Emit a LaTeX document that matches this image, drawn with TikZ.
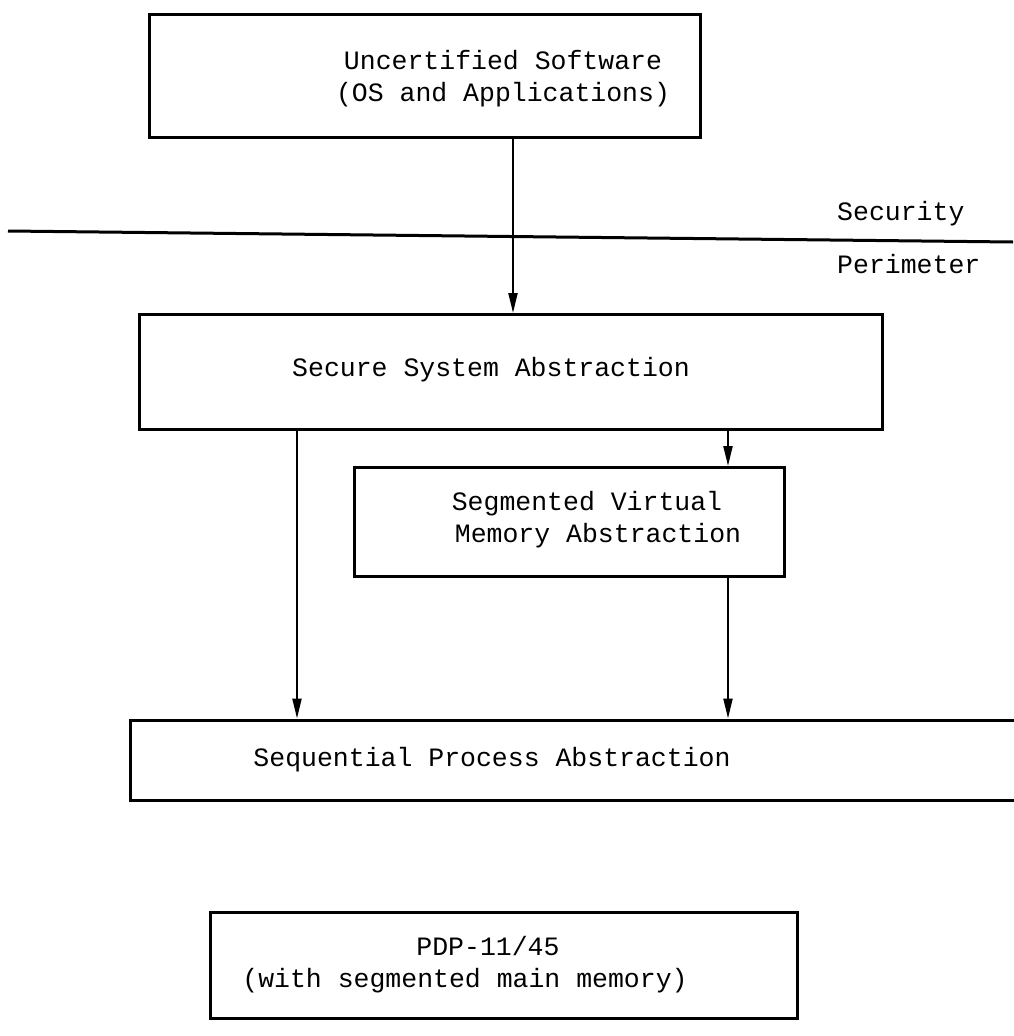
\documentclass[tikz,border=0pt]{standalone}
\usepackage{fontspec}
\setmonofont{Liberation Mono}
\usetikzlibrary{arrows.meta}

\begin{document}
\begin{tikzpicture}[x=1pt, y=-1pt,
		layerbox/.style={draw, line width=3pt, inner sep=0pt},
		caption/.style={align=center, inner sep=0pt,
			font=\ttfamily\fontsize{26.5}{32}\selectfont},
		flow/.style={line width=2.2pt, -{Triangle[length=20pt, width=9pt]}}
	]
	\useasboundingbox (0,0) rectangle (1013,1036);

	% Layers
	\node[layerbox, minimum width=551pt, minimum height=123pt] (unc) at (424.5,75.5) {};
	\node[layerbox, minimum width=743pt, minimum height=115pt] (sec) at (511,372) {};
	\node[layerbox, minimum width=430pt, minimum height=109pt] (svm) at (569,522) {};
	\node[layerbox, minimum width=890pt, minimum height=80pt] (seq) at (575,760) {};
	\node[layerbox, minimum width=587pt, minimum height=106pt] (pdp) at (503.5,965) {};

	% Typed labels
	\node[caption] (uncText) at (503,79) {Uncertified Software\\(OS and Applications)};
	\node[caption] (secText) at (491,370) {Secure System Abstraction};
	\node[caption] (svmText) at (598,520) {\hspace*{-22pt}Segmented Virtual\\Memory Abstraction};
	\node[caption] (seqText) at (492,760) {Sequential Process Abstraction};
	\node[caption] (pdpText) at (465,965) {\hspace*{46pt}PDP-11/45\\(with segmented main memory)};

	% Security perimeter
	\coordinate (perimL) at (8,231);
	\coordinate (perimR) at (1013,242);
	\draw[line width=3pt] (perimL) -- (perimR);
	\node[caption, anchor=west] (secur) at (837,214) {Security};
	\node[caption, anchor=west] (perim) at (837,264) {Perimeter};

	% Uses
	\draw[flow] (unc.south -| 513,0) -- (sec.north -| 513,0);
	\draw[flow] (sec.south -| 297,0) -- (seq.north -| 297,0);
	\draw[flow] (sec.south -| 728,0) -- (svm.north -| 728,0);
	\draw[flow] (svm.south -| 728,0) -- (seq.north -| 728,0);
\end{tikzpicture}
\end{document}
